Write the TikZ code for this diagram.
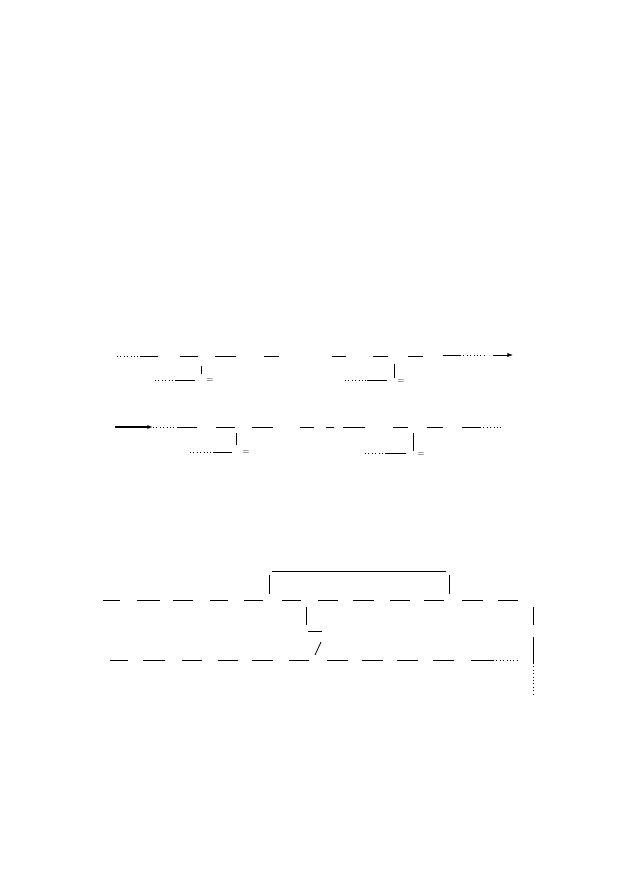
\documentclass[tikz,border=0pt]{standalone}
\usetikzlibrary{arrows.meta}
\usetikzlibrary{calc}
\tikzstyle{wire} = [line width=0.8pt]
\tikzstyle{dotwire} = [line width=0.9pt, dash pattern=on 1pt off 2.4pt]
\tikzstyle{eqsign} = [inner sep=0pt, font=\small]

\begin{document}
\begin{tikzpicture}[x=1pt,y=-1pt]
	\useasboundingbox (0,0) rectangle (630,893);
	
	% first chain
	\draw[dotwire] (117,356) -- (140,356);
	\draw[wire] (140,356) -- (158,356);
	\foreach \a/\b in {180/198, 215/236, 264/279, 332/346, 373/388, 408/423}
	\draw[wire] (\a,356) -- (\b,356);
	\draw[wire] (443,355) -- (460,355);
	\draw[dotwire] (460,355) -- (485,355);
	\coordinate (outA) at (493,355);
	\coordinate (endA) at (513,355);
	\draw[-{Latex[length=2mm]}, wire] (outA) -- (endA);
	% lower branches of first chain
	\draw[wire] (201,366) -- (201,374);
	\draw[dotwire] (155,380) -- (175,380);
	\draw[wire] (175,380) -- (195,380);
	\node[eqsign] (eqA) at (210,381) {$=$};
	\draw[wire] (394,364) -- (394,378);
	\draw[dotwire] (345,380) -- (367,380);
	\draw[wire] (367,380) -- (387,380);
	\node[eqsign] (eqB) at (401,382) {$=$};
	
	% second chain
	\coordinate (inB) at (115,427);
	\coordinate (tipB) at (153,427);
	\draw[-{Latex[length=2mm]}, line width=1.4pt] (inB) -- (tipB);
	\draw[dotwire] (153,427) -- (178,427);
	\draw[wire] (178,427) -- (197,427);
	\foreach \a/\b in {216/235, 252/273, 300/314, 326/334, 343/365, 393/408, 427/443}
	\draw[wire] (\a,427) -- (\b,427);
	\draw[wire] (462,427) -- (480,427);
	\draw[dotwire] (480,427) -- (503,427);
	% lower branches of second chain
	\draw[wire] (236,433) -- (236,445);
	\draw[dotwire] (190,452) -- (213,452);
	\draw[wire] (213,452) -- (232,452);
	\node[eqsign] (eqC) at (246,453) {$=$};
	\draw[wire] (413,433) -- (413,451);
	\draw[dotwire] (365,453) -- (386,453);
	\draw[wire] (386,453) -- (406,453);
	\node[eqsign] (eqD) at (421,455) {$=$};
	
	% bracket over the upper row
	\draw[wire] (272,571) -- (446,571);
	\draw[wire] (269,575) -- (269,594);
	\draw[wire] (449,575) -- (449,594);
	
	% upper row
	\foreach \a/\b in {103/120, 137/160, 173/193, 210/228, 244/263, 282/301, 318/338, 353/374, 390/410, 424/444, 462/483, 498/518}
	\draw[wire] (\a,600) -- (\b,600);
	\draw[wire] (306,607) -- (306,625);
	\draw[wire] (308,631) -- (322,631);
	\draw[wire] (315,655) -- (321,642);
	\draw[wire] (533,607) -- (533,625);
	
	% lower row
	\foreach \a/\b in {110/128, 143/165, 182/202, 218/238, 252/273, 289/309, 327/348, 362/383, 397/418, 433/454}
	\draw[wire] (\a,660) -- (\b,660);
	\draw[wire] (471,660) -- (493,660);
	\draw[dotwire] (493,660) -- (520,660);
	\draw[wire] (533,637) -- (533,663);
	\draw[dotwire] (533,663) -- (533,694);
\end{tikzpicture}
\end{document}
